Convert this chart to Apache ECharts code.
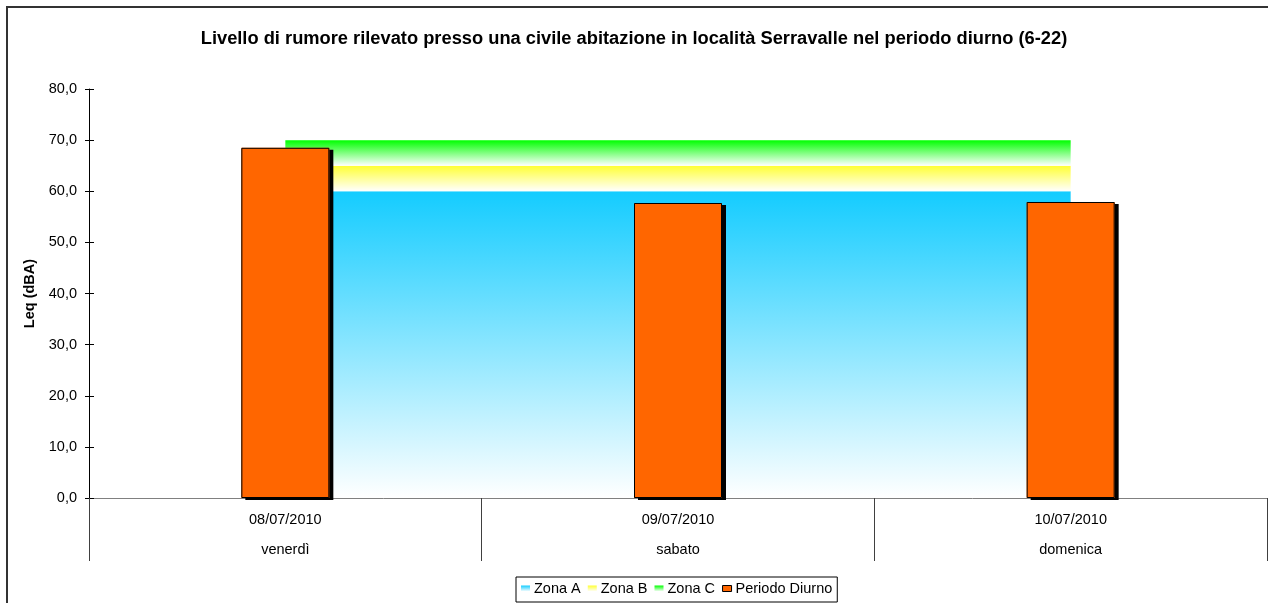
<!DOCTYPE html>
<html>
<head>
<meta charset="utf-8">
<script src="https://cdn.jsdelivr.net/npm/echarts@6/dist/echarts.min.js"></script>
<style>
html, body { margin: 0; padding: 0; background: #fff; }
#chart { width: 1268px; height: 603px; }
</style>
</head>
<body>
<div id="chart"></div>
<script>
// dati
var dates = ['08/07/2010', '09/07/2010', '10/07/2010'];
var days = ['venerdì', 'sabato', 'domenica'];
var periodoDiurno = [68.5, 57.7, 57.9];
// limiti di zona (impilati: A fino a 60, B fino a 65, C fino a 70)
var zonaA = [60, 60, 60];
var zonaB = [5, 5, 5];
var zonaC = [5, 5, 5];
var yTicks = [0, 10, 20, 30, 40, 50, 60, 70, 80];

var FONT = 'Liberation Sans, Arial, sans-serif';
var categories = dates.map(function (d, i) { return d + '\n' + days[i]; });

function fade(top) {
  return new echarts.graphic.LinearGradient(0, 0, 0, 1, [
    { offset: 0, color: top },
    { offset: 1, color: '#ffffff' }
  ]);
}
var blue = fade('#14ccff');
var yellow = fade('#ffff33');
var green = fade('#00ff00');

var chart = echarts.init(document.getElementById('chart'));

var option = {
  animation: false,
  textStyle: { fontFamily: FONT },
  title: {
    text: 'Livello di rumore rilevato presso una civile abitazione in località Serravalle nel periodo diurno (6-22)',
    left: 'center',
    top: 30,
    padding: 0,
    textStyle: { fontSize: 18.3, fontWeight: 'bold', color: '#000', fontFamily: FONT }
  },
  graphic: [{
    type: 'rect',
    shape: { x: 7, y: 7, width: 1300, height: 700 },
    style: { fill: 'none', stroke: '#333', lineWidth: 2 },
    silent: true
  }],
  legend: {
    left: 516,
    top: 577,
    padding: [4, 5, 6, 5],
    borderColor: '#000',
    borderWidth: 1,
    itemWidth: 9,
    itemHeight: 6,
    itemGap: 7,
    textStyle: { fontSize: 14.5, color: '#000', fontFamily: FONT, padding: [0, 0, 0, -1] },
    data: [
      { name: 'Zona A', icon: 'rect', itemStyle: { color: blue } },
      { name: 'Zona B', icon: 'rect', itemStyle: { color: yellow } },
      { name: 'Zona C', icon: 'rect', itemStyle: { color: green } },
      { name: 'Periodo Diurno', icon: 'rect', itemStyle: { color: '#ff6600', borderColor: '#000', borderWidth: 1 } }
    ]
  },
  grid: { left: 89, right: 1, top: 89, bottom: 105 },
  xAxis: {
    type: 'category',
    data: categories,
    boundaryGap: true,
    axisLine: { lineStyle: { color: '#808080', width: 1 } },
    axisTick: { show: true, length: 63, lineStyle: { color: '#404040' } },
    axisLabel: {
      margin: 7,
      fontSize: 14.5,
      lineHeight: 30,
      color: '#000',
      fontFamily: FONT
    },
    splitLine: { show: false }
  },
  yAxis: [{
    type: 'value',
    min: yTicks[0],
    max: yTicks[yTicks.length - 1],
    interval: 10,
    name: 'Leq (dBA)',
    nameLocation: 'middle',
    nameRotate: 90,
    nameGap: 51,
    nameTextStyle: { fontSize: 14.5, fontWeight: 'bold', color: '#000', fontFamily: FONT },
    axisLine: { show: true, lineStyle: { color: '#000', width: 1 } },
    axisTick: { show: true, length: 4, lineStyle: { color: '#000' } },
    axisLabel: {
      margin: 12,
      fontSize: 14.5,
      color: '#000',
      fontFamily: FONT,
      formatter: function (v) { return v.toFixed(1).replace('.', ','); }
    },
    splitLine: { show: false }
  }, {
    type: 'value',
    position: 'left',
    min: yTicks[0],
    max: yTicks[yTicks.length - 1],
    interval: 10,
    axisLine: { show: false },
    axisTick: { show: true, inside: true, length: 5, lineStyle: { color: '#000' } },
    axisLabel: { show: false },
    splitLine: { show: false }
  }],
  series: [
    {
      name: 'Zona A', type: 'line', stack: 'zone', data: zonaA,
      symbol: 'none', lineStyle: { width: 0 }, itemStyle: { color: blue },
      areaStyle: { color: blue, opacity: 1 }, z: 1
    },
    {
      name: 'Zona B', type: 'line', stack: 'zone', data: zonaB,
      symbol: 'none', lineStyle: { width: 0 }, itemStyle: { color: yellow },
      areaStyle: { color: yellow, opacity: 1 }, z: 1
    },
    {
      name: 'Zona C', type: 'line', stack: 'zone', data: zonaC,
      symbol: 'none', lineStyle: { width: 0 }, itemStyle: { color: green },
      areaStyle: { color: green, opacity: 1 }, z: 1
    },
    {
      // ombra delle barre (senza bordo)
      name: 'ombra', type: 'bar', data: periodoDiurno,
      barWidth: 88,
      silent: true,
      itemStyle: {
        color: '#ff6600',
        shadowColor: '#000',
        shadowBlur: 0,
        shadowOffsetX: 4,
        shadowOffsetY: 2
      },
      z: 4
    },
    {
      name: 'Periodo Diurno', type: 'bar', data: periodoDiurno,
      barWidth: 88,
      barGap: '-100%',
      itemStyle: {
        color: '#ff6600',
        borderColor: '#000',
        borderWidth: 1
      },
      z: 5
    }
  ]
};

chart.setOption(option);
</script>
</body>
</html>
